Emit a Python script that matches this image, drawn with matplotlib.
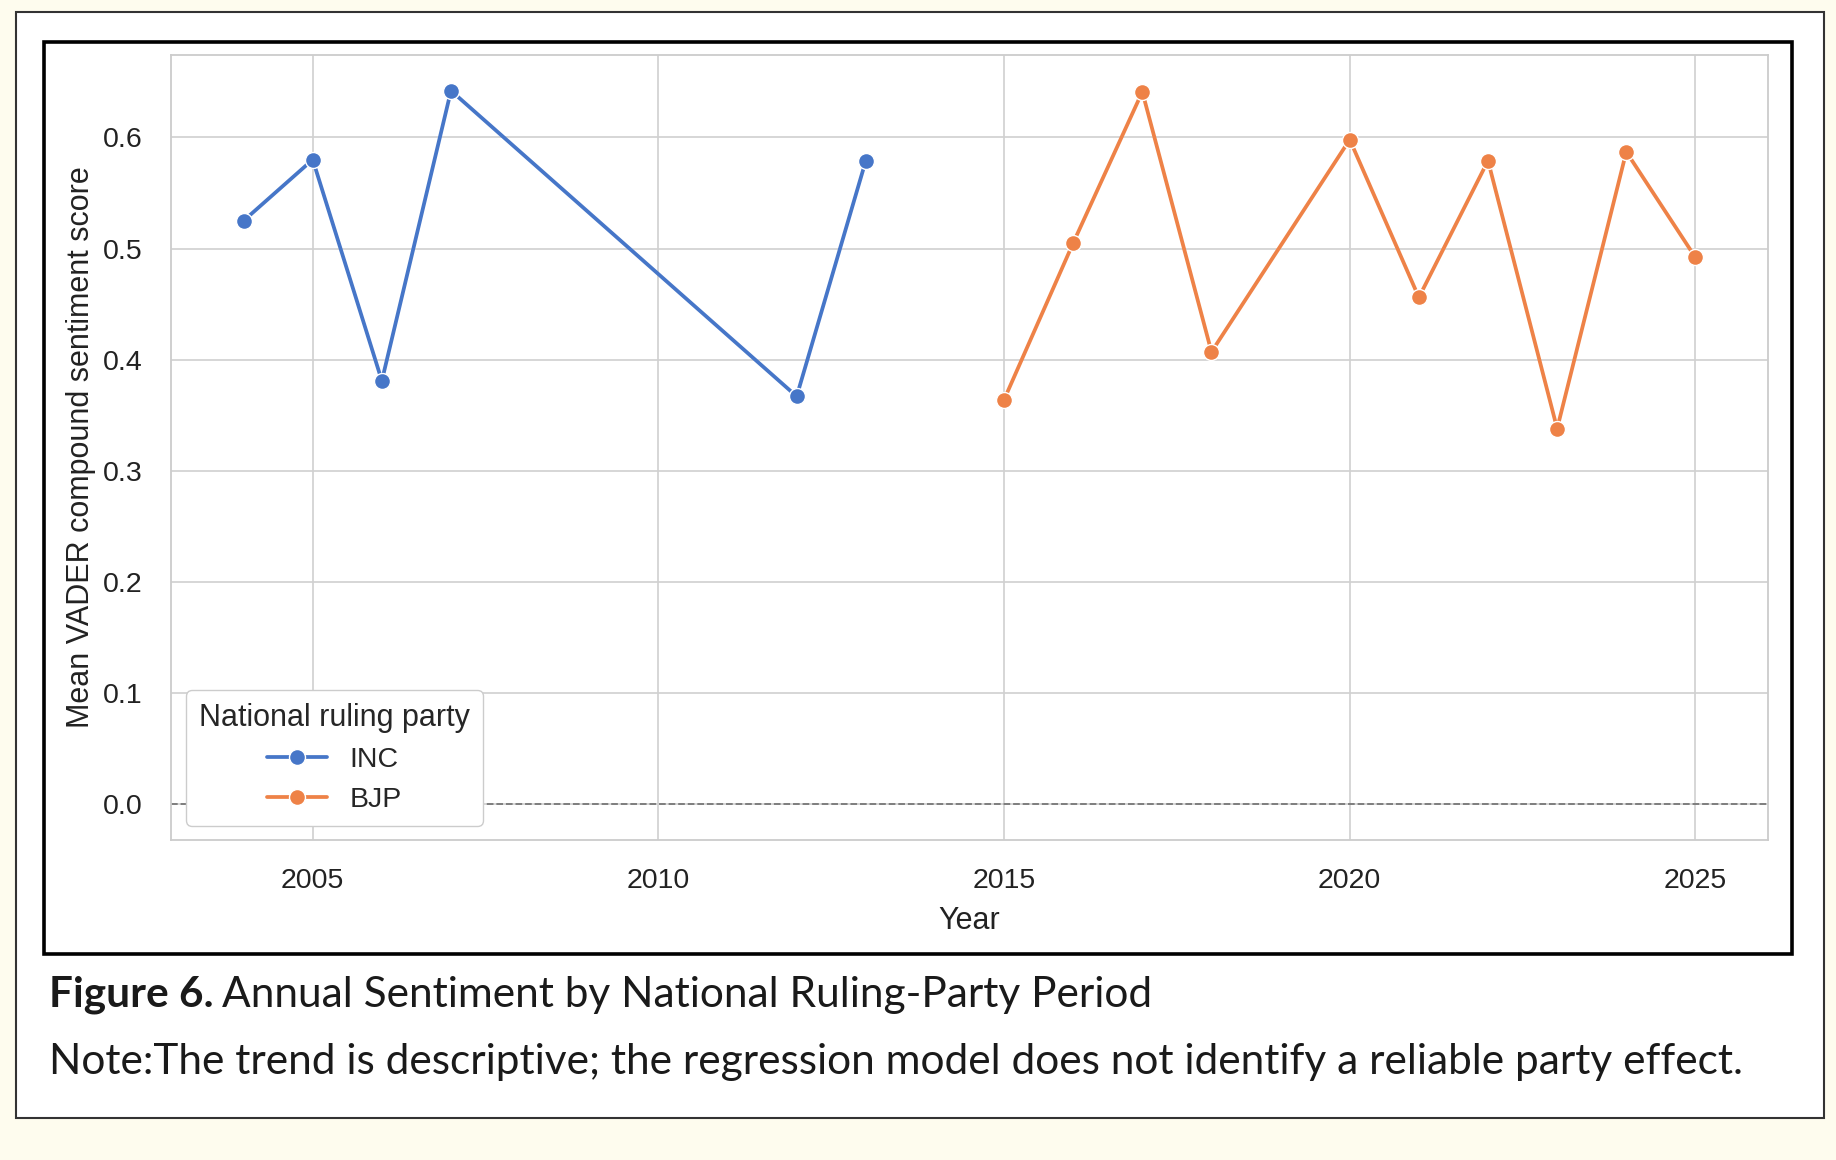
import matplotlib
matplotlib.use("Agg")
import matplotlib.pyplot as plt
from matplotlib.patches import Rectangle
import seaborn as sns

inc_years = [2004, 2005, 2006, 2007, 2012, 2013]
inc_scores = [0.525, 0.580, 0.381, 0.642, 0.367, 0.579]

bjp_years = [2015, 2016, 2017, 2018, 2020, 2021, 2022, 2023, 2024, 2025]
bjp_scores = [0.364, 0.505, 0.641, 0.407, 0.598, 0.456, 0.579, 0.338, 0.587, 0.492]

parties = ["INC", "BJP"]
colors = ["#4676c8", "#ee8247"]

caption_bold = "Figure 6."
caption_rest = "Annual Sentiment by National Ruling-Party Period"
note = "Note:The trend is descriptive; the regression model does not identify a reliable party effect."

sns.set_style("whitegrid")
plt.rcParams["font.family"] = ["Liberation Sans", "DejaVu Sans"]

fig = plt.figure(figsize=(18.36, 11.6), dpi=100)
fig.patch.set_facecolor("#fefcee")

# white card and the framed figure inside it
fig.patches.append(Rectangle((16/1836, 1-1118/1160), (1824-16)/1836, (1118-12)/1160,
                             transform=fig.transFigure, facecolor="white",
                             edgecolor="#333333", lw=1.5, zorder=-2))
fig.patches.append(Rectangle((44/1836, 1-954/1160), (1792-44)/1836, (954-42)/1160,
                             transform=fig.transFigure, facecolor="white",
                             edgecolor="black", lw=2.6, zorder=-1))

ax = fig.add_axes([171/1836, 1-840/1160, (1768-171)/1836, (840-55)/1160])
ax.set_facecolor("white")

ax.axhline(0, color="#777777", lw=1.3, ls="--", zorder=1)

for yrs, vals, name, c in zip([inc_years, bjp_years], [inc_scores, bjp_scores], parties, colors):
    ax.plot(yrs, vals, color=c, lw=2.7, marker="o", ms=11.5, mec="white", mew=1.0,
            label=name, zorder=3)

ax.set_xticks([2005, 2010, 2015, 2020, 2025])
ax.tick_params(axis="x", labelsize=20.5, colors="#222222", pad=17)
ax.tick_params(axis="y", labelsize=20.5, colors="#222222", pad=17)
for s in ax.spines.values():
    s.set_color("#cccccc")
    s.set_linewidth(1.3)
ax.grid(color="#d0d0d0", lw=1.2)

ax.set_xlabel("Year", fontsize=22, color="#222222", labelpad=8)
ax.set_ylabel("Mean VADER compound sentiment score", fontsize=22, color="#222222", labelpad=5)

leg = ax.legend(title="National ruling party", loc="lower left", fontsize=20.5,
                title_fontsize=22, frameon=True, borderpad=0.45, handlelength=2.1,
                borderaxespad=0, bbox_to_anchor=(15/1597, 14/785))
leg.get_frame().set_edgecolor("#cccccc")
leg.get_frame().set_alpha(1)

cap_font = ["Lato", "DejaVu Sans"]
t1 = fig.text(49/1836, 1-1007/1160, caption_bold, fontsize=30.5, fontweight="bold",
              family=cap_font, color="#1a1a1a", va="baseline")
fig.canvas.draw()
bb = t1.get_window_extent()
fig.text((bb.x1 + 8)/1836, 1-1007/1160, caption_rest, fontsize=30.5,
         family=cap_font, color="#1a1a1a", va="baseline")
fig.text(49/1836, 1-1074/1160, note, fontsize=30.5,
         family=cap_font, color="#1a1a1a", va="baseline")

fig.savefig("out.png", dpi=100, facecolor=fig.get_facecolor())
